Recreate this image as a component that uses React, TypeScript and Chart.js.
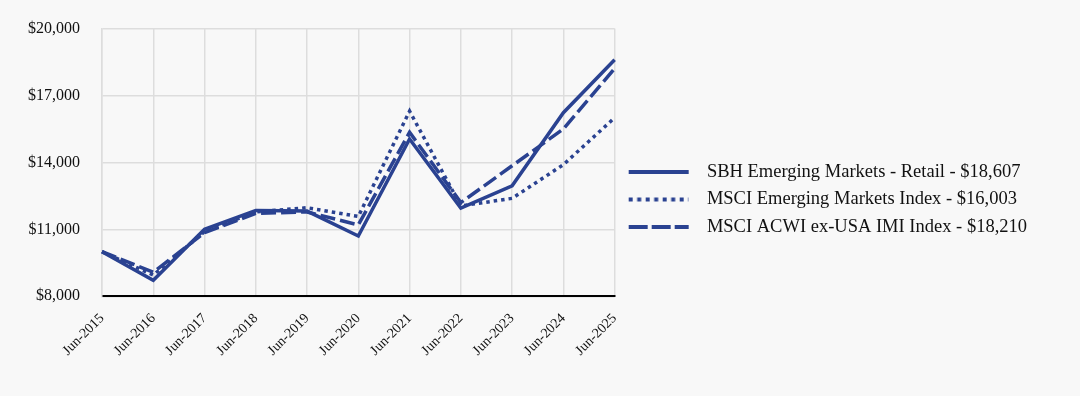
import React, { useEffect, useRef } from "react";
import { Chart, registerables } from "chart.js";

Chart.register(...registerables);

const categories = [
  "Jun-2015", "Jun-2016", "Jun-2017", "Jun-2018", "Jun-2019", "Jun-2020",
  "Jun-2021", "Jun-2022", "Jun-2023", "Jun-2024", "Jun-2025",
];
const sbhRetail = [10000, 8720, 11000, 11850, 11820, 10700, 15050, 11950, 12950, 16230, 18607];
const msciEM = [10000, 8950, 10900, 11780, 11970, 11580, 16300, 12050, 12390, 13900, 16003];
const msciAcwi = [10000, 9080, 10850, 11720, 11780, 11200, 15350, 12200, 13850, 15500, 18210];
const seriesNames = [
  "SBH Emerging Markets - Retail - $18,607",
  "MSCI Emerging Markets Index - $16,003",
  "MSCI ACWI ex-USA IMI Index - $18,210",
];
const yTicks = [8000, 11000, 14000, 17000, 20000];

const COLOR = "#2a4291";
const FONT = "'Liberation Serif', 'Times New Roman', serif";

function legendSwatch(dash: number[]) {
  const c = document.createElement("canvas");
  c.width = 74;
  c.height = 6;
  const g = c.getContext("2d")!;
  g.strokeStyle = COLOR;
  g.lineWidth = 4;
  g.setLineDash(dash);
  g.beginPath();
  g.moveTo(5, 3);
  g.lineTo(65, 3);
  g.stroke();
  return c;
}

export default function App() {
  const ref = useRef<HTMLCanvasElement | null>(null);
  useEffect(() => {
    document.body.style.margin = "0";
    document.body.style.background = "#f8f8f8";
    if (!ref.current) return;
    const chart = new Chart(ref.current, {
      type: "line",
      data: {
        labels: categories,
        datasets: [
          { label: seriesNames[0], data: sbhRetail, borderColor: COLOR, backgroundColor: COLOR, borderWidth: 3.5, pointRadius: 0, tension: 0, pointStyle: legendSwatch([]) },
          { label: seriesNames[1], data: msciEM, borderColor: COLOR, backgroundColor: COLOR, borderWidth: 3.5, borderDash: [3.5, 4], pointRadius: 0, tension: 0, pointStyle: legendSwatch([4, 4.5]) },
          { label: seriesNames[2], data: msciAcwi, borderColor: COLOR, backgroundColor: COLOR, borderWidth: 3.5, borderDash: [15, 5], pointRadius: 0, tension: 0, pointStyle: legendSwatch([19, 4]) },
        ],
      },
      options: {
        animation: false,
        responsive: true,
        maintainAspectRatio: false,
        layout: { padding: { left: 6, top: 11, right: 43, bottom: 5 } },
        plugins: {
          tooltip: { enabled: false },
          legend: {
            position: "right",
            align: "center",
            maxWidth: 520,
            labels: {
              usePointStyle: true,
              pointStyleWidth: 74,
              color: "#111",
              font: { family: FONT, size: 18.5 },
              padding: 9,
            },
          },
        },
        scales: {
          x: {
            grid: { color: "#dddddd", lineWidth: 1.5, drawTicks: false },
            border: { color: "#000", width: 2 },
            afterFit: (scale: any) => {
              scale.height += 18;
            },
            ticks: {
              color: "#111",
              font: { family: FONT, size: 14 },
              maxRotation: 45,
              minRotation: 45,
              autoSkip: false,
              padding: 14,
            },
          },
          y: {
            min: 8000,
            max: 20000,
            afterBuildTicks: (axis: any) => {
              axis.ticks = yTicks.map((v) => ({ value: v }));
            },
            grid: { color: "#dddddd", lineWidth: 1.5, drawTicks: false },
            border: { color: "#dddddd", width: 1.5 },
            ticks: {
              color: "#111",
              font: { family: FONT, size: 16 },
              padding: 22,
              callback: (v: any) => "$" + Number(v).toLocaleString("en-US"),
            },
          },
        },
      },
    });
    return () => chart.destroy();
  }, []);
  return (
    <div style={{ width: 1080, height: 396, background: "#f8f8f8", position: "relative", overflow: "hidden" }}>
      <div style={{ position: "absolute", left: 0, top: -3, width: 1080, height: 399 }}>
        <canvas ref={ref} />
      </div>
    </div>
  );
}
